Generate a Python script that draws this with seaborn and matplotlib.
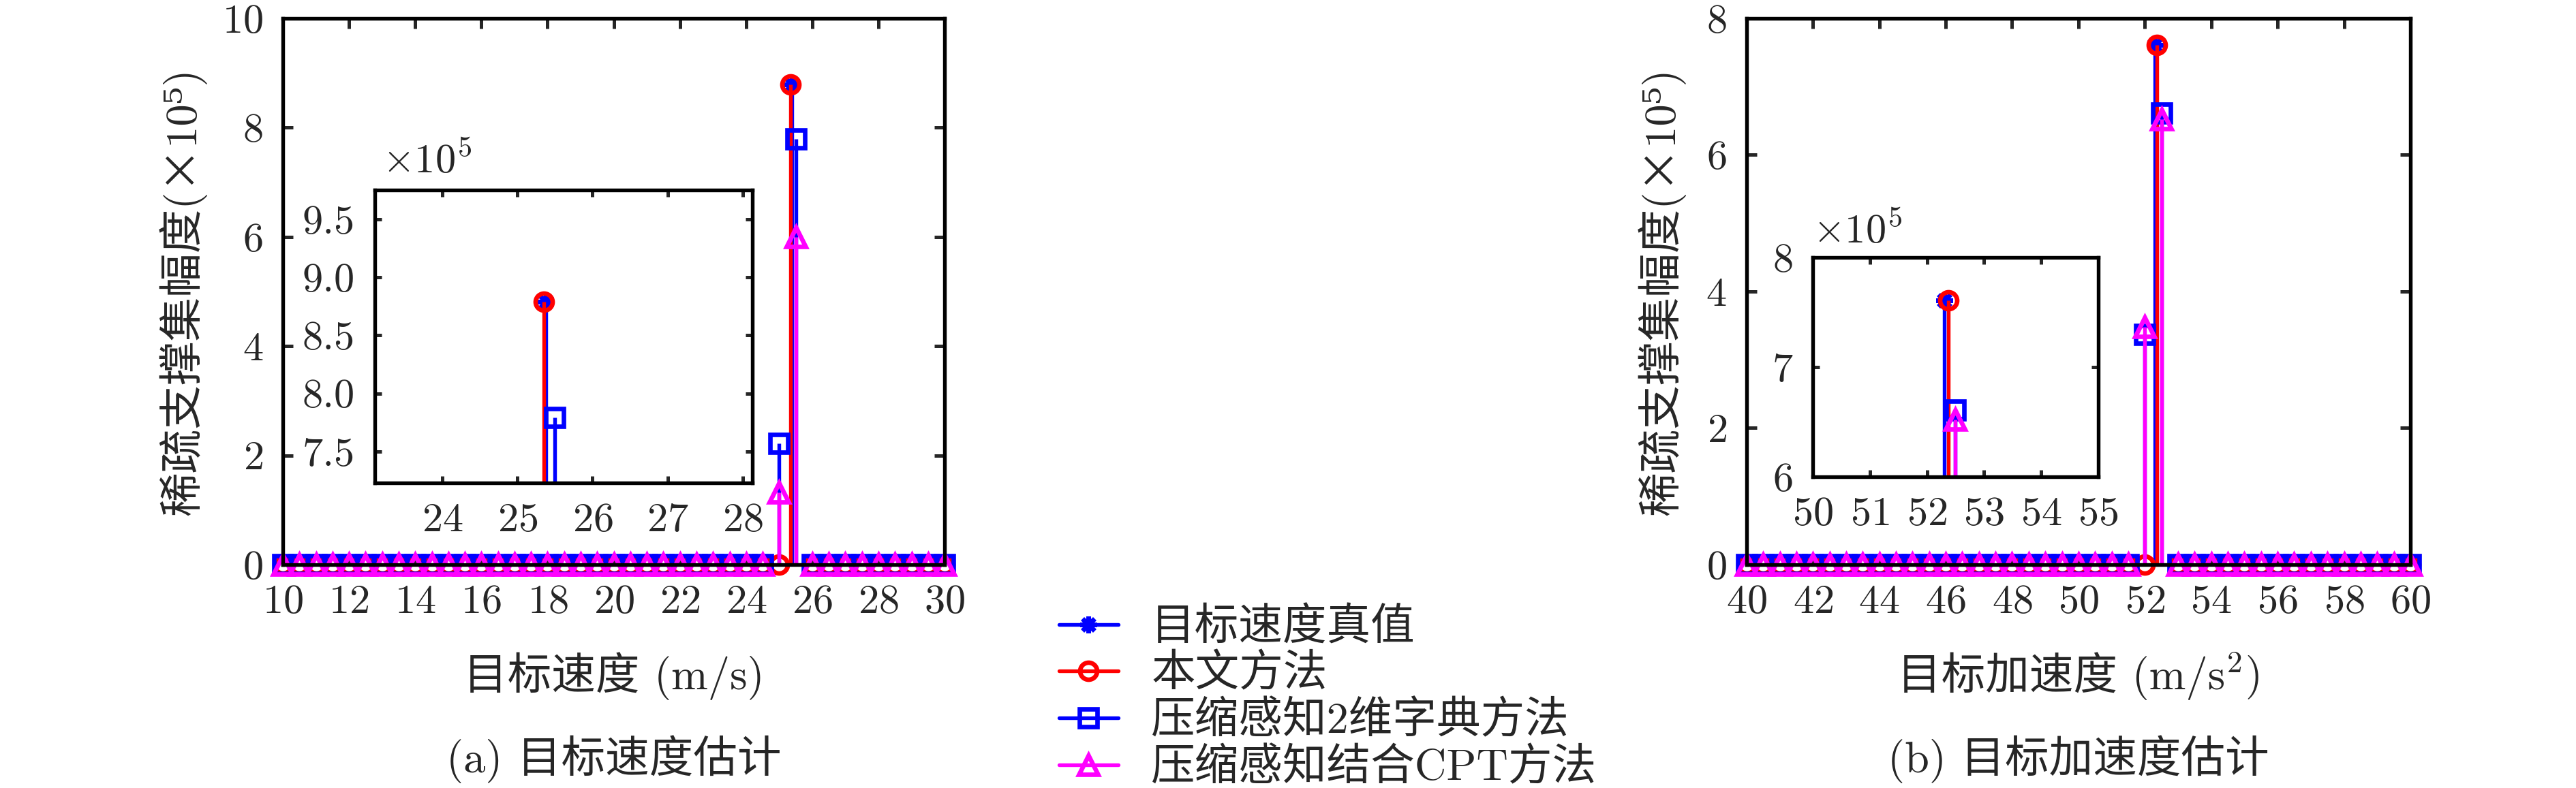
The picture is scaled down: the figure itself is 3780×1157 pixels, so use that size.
import matplotlib
matplotlib.use('Agg')
import matplotlib.pyplot as plt
import numpy as np
import seaborn as sns
from matplotlib.lines import Line2D
from matplotlib.legend_handler import HandlerLine2D
from matplotlib.offsetbox import TextArea, HPacker, AnnotationBbox

sns.set_style('ticks')
plt.rcParams['font.family'] = ['cmr10', 'Noto Sans CJK SC', 'DejaVu Serif']
plt.rcParams['mathtext.fontset'] = 'cm'
plt.rcParams['axes.formatter.use_mathtext'] = True
plt.rcParams['axes.unicode_minus'] = False

# search grids (step 0.5)
vel_grid = np.arange(10.0, 30.01, 0.5)
acc_grid = np.arange(40.0, 60.01, 0.5)

# velocity spikes (x10^5)
vel_true_x, vel_true_y = [25.38], [8.79]
vel_ours_x, vel_ours_y = [25.0, 25.35], [0.0, 8.79]
vel_cs2d_x, vel_cs2d_y = [25.0, 25.5], [2.22, 7.79]
vel_cpt_x, vel_cpt_y = [25.0, 25.5], [1.32, 6.0]

# acceleration spikes (x10^5)
acc_true_x, acc_true_y = [52.3], [7.61]
acc_ours_x, acc_ours_y = [52.0, 52.37], [0.0, 7.61]
acc_cs2d_x, acc_cs2d_y = [52.0, 52.5], [3.37, 6.61]
acc_cpt_x, acc_cpt_y = [52.0, 52.5], [3.48, 6.52]

labels = ['目标速度真值', '本文方法', '压缩感知2维字典方法', '压缩感知结合CPT方法']
colors = ['#0000ff', '#ff0000', '#0000ff', '#ff00ff']
markers = [(8, 2, 0), 'o', 's', '^']
msizes = [6, 6, 6.3, 6.5]

TICK_FS = 14.5
LAB_FS = 15.5


def on_grid(grid, xs, ys, drop=()):
    # zero amplitude on every grid cell except where the method puts a spike
    keep = [g for g in grid
            if not any(np.isclose(g, v) for v in list(xs) + list(drop))]
    x = np.array(keep + list(xs))
    y = np.array([0.0] * len(keep) + list(ys))
    order = np.argsort(x)
    return x[order], y[order]


def draw_stem(ax, x, y, k, clip):
    ml, sl, bl = ax.stem(x, y, linefmt='-', markerfmt='o', basefmt=' ')
    sl.set_color(colors[k])
    sl.set_linewidth(1.3)
    ml.set_marker(markers[k])
    ml.set_color(colors[k])
    ml.set_markerfacecolor('none')
    ml.set_markeredgecolor(colors[k])
    ml.set_markersize(msizes[k])
    ml.set_markeredgewidth(1.6)
    ml.set_clip_on(clip)
    bl.set_visible(False)


def style_axes(ax, fs=TICK_FS, tl=3.5):
    ax.tick_params(direction='in', top=True, right=True, length=tl, width=1.2,
                   labelsize=fs, pad=7)
    for s in ax.spines.values():
        s.set_linewidth(1.3)
        s.set_color('black')


def plot_all(ax, series, clip):
    for k, (x, y) in enumerate(series):
        draw_stem(ax, x, y, k, clip)


vel_series = [
    (vel_true_x, vel_true_y),
    on_grid(vel_grid, vel_ours_x, vel_ours_y, drop=[25.5]),
    on_grid(vel_grid, vel_cs2d_x, vel_cs2d_y),
    on_grid(vel_grid, vel_cpt_x, vel_cpt_y),
]
acc_series = [
    (acc_true_x, acc_true_y),
    on_grid(acc_grid, acc_ours_x, acc_ours_y, drop=[52.5]),
    on_grid(acc_grid, acc_cs2d_x, acc_cs2d_y),
    on_grid(acc_grid, acc_cpt_x, acc_cpt_y),
]

fig = plt.figure(figsize=(12.6, 3.8567), dpi=300)

# (a) velocity
ax_v = fig.add_axes([0.1098, 0.2835, 0.2569, 0.6932])
plot_all(ax_v, vel_series, clip=False)
ax_v.set_xlim(10, 30)
ax_v.set_ylim(0, 10)
ax_v.set_xticks(np.arange(10, 31, 2))
ax_v.set_yticks(np.arange(0, 11, 2))
style_axes(ax_v)
ax_v.set_xlabel('目标速度 (m/s)', fontsize=LAB_FS, va='center')
ax_v.xaxis.set_label_coords(0.5, -0.2045)
ax_v.set_ylabel('稀疏支撑集幅度(×10⁵)', fontsize=LAB_FS)
ax_v.yaxis.set_label_coords(-0.115, 0.5)

in_v = fig.add_axes([0.1455, 0.3872, 0.1466, 0.3717])
plot_all(in_v, vel_series, clip=True)
in_v.set_xlim(23.1, 28.13)
in_v.set_ylim(7.23, 9.75)
in_v.set_xticks([24, 25, 26, 27, 28])
in_v.set_yticks([7.5, 8.0, 8.5, 9.0, 9.5])
in_v.yaxis.set_major_formatter(matplotlib.ticker.FormatStrFormatter('%.1f'))
style_axes(in_v, tl=2.5)
in_v.text(0.02, 1.03, r'$\times10^5$', transform=in_v.transAxes,
          fontsize=TICK_FS, ha='left', va='bottom')

# (b) acceleration
ax_a = fig.add_axes([0.678, 0.2835, 0.2577, 0.6932])
plot_all(ax_a, acc_series, clip=False)
ax_a.set_xlim(40, 60)
ax_a.set_ylim(0, 8)
ax_a.set_xticks(np.arange(40, 61, 2))
ax_a.set_yticks(np.arange(0, 9, 2))
style_axes(ax_a)
# CJK part and the LaTeX-style superscript packed side by side
acc_label = HPacker(children=[
    TextArea('目标加速度 (m/s', textprops=dict(fontsize=LAB_FS)),
    TextArea(r'${}^2$)', textprops=dict(fontsize=LAB_FS)),
], align='baseline', pad=0, sep=0)
ax_a.add_artist(AnnotationBbox(acc_label, (0.5, -0.2045), xycoords='axes fraction',
                               frameon=False, box_alignment=(0.5, 0.5),
                               annotation_clip=False))
ax_a.set_ylabel('稀疏支撑集幅度(×10⁵)', fontsize=LAB_FS)
ax_a.yaxis.set_label_coords(-0.092, 0.5)

in_a = fig.add_axes([0.7037, 0.395, 0.1108, 0.278])
plot_all(in_a, acc_series, clip=True)
in_a.set_xlim(50, 55)
in_a.set_ylim(6, 8)
in_a.set_xticks([50, 51, 52, 53, 54, 55])
in_a.set_yticks([6, 7, 8])
style_axes(in_a, tl=2.5)
in_a.text(0.0, 1.03, r'$\times10^5$', transform=in_a.transAxes,
          fontsize=TICK_FS, ha='left', va='bottom')

fig.text(0.2383, 0.037, '(a) 目标速度估计', fontsize=LAB_FS, ha='center', va='center')
fig.text(0.8069, 0.037, '(b) 目标加速度估计', fontsize=LAB_FS, ha='center', va='center')


class EndMarkerHandler(HandlerLine2D):
    # MATLAB-style legend: marker sits at the right end of the line
    def get_xdata(self, legend, xdescent, ydescent, width, height, fontsize):
        xdata = np.array([-xdescent, -xdescent + width])
        return xdata, np.array([-xdescent + width])


handles = [Line2D([], [], color=colors[k], lw=1.3, marker=markers[k],
                  mfc='none', mec=colors[k], ms=msizes[k], mew=1.6)
           for k in range(4)]
fig.legend(handles, labels, loc='upper left', bbox_to_anchor=(0.411, 0.229),
           frameon=False, fontsize=LAB_FS, handlelength=1.35, handletextpad=0.75,
           labelspacing=0.13, borderpad=0, borderaxespad=0,
           handler_map={Line2D: EndMarkerHandler()})

fig.savefig('out.png', dpi=300)
